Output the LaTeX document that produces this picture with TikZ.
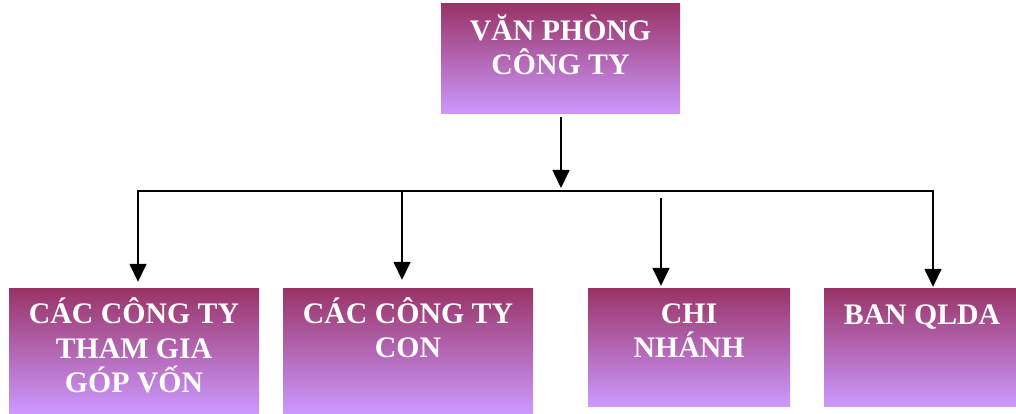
\documentclass[tikz,border=0pt]{standalone}
\usepackage{fontspec}
\setmainfont{Liberation Serif}
\usetikzlibrary{arrows.meta}
\definecolor{boxtop}{RGB}{153,51,102}
\definecolor{boxbottom}{RGB}{204,153,255}
\tikzset{
  linkarrow/.style={-{Triangle[length=18pt,width=17pt]}, line width=1.6pt},
  unitbox/.style={rectangle, inner sep=0pt, top color=boxtop, bottom color=boxbottom},
  unittext/.style={anchor=base, align=center, text=white, inner sep=0pt,
    font=\fontsize{29.8}{34.5}\selectfont\bfseries}
}
\begin{document}
\begin{tikzpicture}[x=1pt, y=-1pt]
  \useasboundingbox (0,0) rectangle (1016,414);
  % units
  \node[unitbox, minimum width=239pt, minimum height=110pt] (vp) at (560.5,59) {};
  \node[unitbox, minimum width=250pt, minimum height=125pt] (tg) at (134,350.5) {};
  \node[unitbox, minimum width=250pt, minimum height=125pt] (con) at (408,350.5) {};
  \node[unitbox, minimum width=202pt, minimum height=118pt] (cn) at (689,347) {};
  \node[unitbox, minimum width=196pt, minimum height=118pt] (ql) at (922,347) {};
  % labels, placed by the baseline of their last line
  \node[unittext] (vp-text) at ([yshift=-71pt]vp.north) {VĂN PHÒNG\\CÔNG TY};
  \node[unittext] (tg-text) at ([yshift=-105pt]tg.north) {CÁC CÔNG TY\\THAM GIA\\GÓP VỐN};
  \node[unittext] (con-text) at ([yshift=-70pt]con.north) {CÁC CÔNG TY\\CON};
  \node[unittext] (cn-text) at ([yshift=-70pt]cn.north) {CHI\\NHÁNH};
  \node[unittext] (ql-text) at ([yshift=-37pt]ql.north) {BAN QLDA};
  % bus
  \coordinate (hub) at (561,188);
  \coordinate (busL) at (138,191);
  \coordinate (busR) at (933,191);
  \coordinate (busC) at (402,191);
  \coordinate (cn-start) at (661,198);
  \draw[linkarrow, shorten <=3pt] (vp.south -| hub) -- (hub);
  \draw[linkarrow, shorten >=6pt, line cap=rect] (busR) -- (busL) -- (busL |- tg.north);
  \draw[linkarrow, shorten >=8pt] (busC) -- (busC |- con.north);
  \draw[linkarrow, shorten >=2pt] (cn-start) -- (cn-start |- cn.north);
  \draw[linkarrow, shorten >=1pt] (busR) -- (busR |- ql.north);
\end{tikzpicture}
\end{document}
